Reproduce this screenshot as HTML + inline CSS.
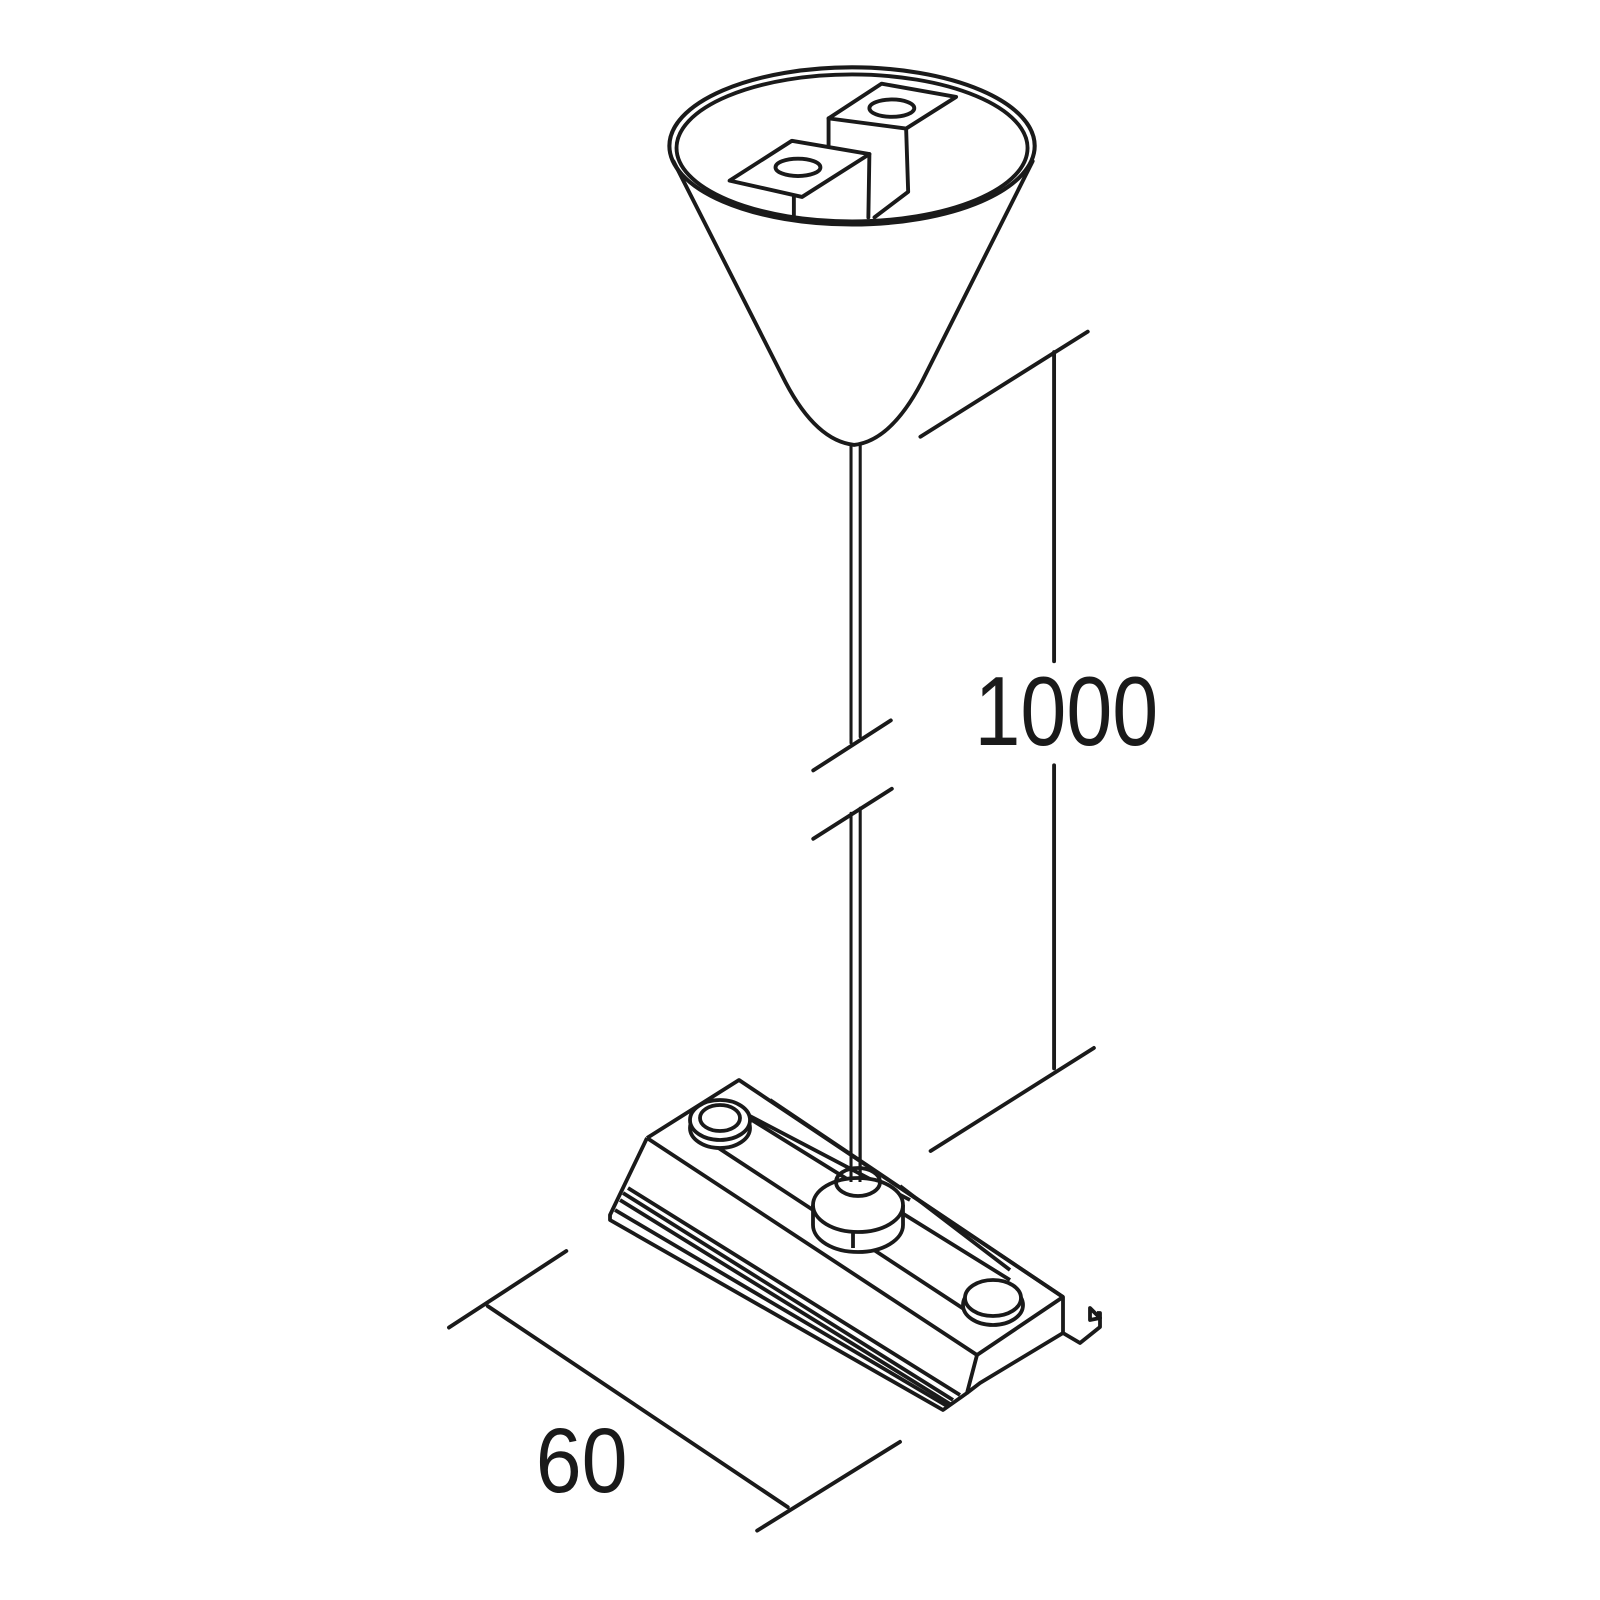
<!DOCTYPE html>
<html><head><style>html,body{margin:0;padding:0;background:#fff}svg{display:block}</style></head>
<body>
<svg width="1600" height="1600" viewBox="0 0 1568 1568" xmlns="http://www.w3.org/2000/svg">
<g fill="none" stroke="#1a1a1a" stroke-width="3.8" stroke-linejoin="round" stroke-linecap="round">
<!-- cone -->
<ellipse cx="835" cy="143" rx="179" ry="77" stroke-width="4"/>
<ellipse cx="835" cy="145" rx="172" ry="72"/>
<path d="M660 158 L770 375 Q800 432 837 436 Q873 432 903 375 L1012 158"/>
<!-- blocks -->
<path d="M812 116 L864 82 L937 95 L888 126 Z"/>
<ellipse cx="874" cy="106" rx="22" ry="8.5"/>
<path d="M812 116 L812 143 M888 126 L890 188 L857 213"/>
<path d="M715 177 L776 138 L852 151 L786 193 Z"/>
<ellipse cx="782" cy="164" rx="22" ry="8.5"/>
<path d="M778 193 L778 211 M852 151 L851 213"/>
<!-- wire -->
<path d="M834 436 V728 M843 436 V722 M834 797 V1160 M843 792 V1160" stroke-width="3"/>
<path d="M797 755 L873 706 M797 822 L874 773"/>
<!-- dim 1000 -->
<path d="M902 428 L1066 325 M1033 345 V648 M1033 750 V1047 M912 1128 L1072 1027"/>
<!-- dim 60 -->
<path d="M440 1301 L555 1226 M478 1280 L772 1477 M742 1500 L882 1413"/>
</g>
<text x="955" y="730" font-family="Liberation Sans, sans-serif" font-size="96" textLength="180" lengthAdjust="spacingAndGlyphs" fill="#1a1a1a">1000</text>
<text x="525" y="1462" font-family="Liberation Sans, sans-serif" font-size="90" textLength="90" lengthAdjust="spacingAndGlyphs" fill="#1a1a1a">60</text>
<!-- base -->
<g transform="scale(0.98)" fill="none" stroke="#1a1a1a" stroke-width="3.8" stroke-linejoin="round">
<path d="M647 1138 L739 1080 L1063 1297 L1063 1333 L1080 1343 L1100 1327 L1100 1313 L1097 1313"/>
<path d="M770 1100 L1063 1297"/>
<path d="M1090 1308 L1100 1318 L1090 1320 Z"/>
<path d="M647 1138 L977 1355 L1063 1297"/>
<path d="M647 1138 L610 1215 L610 1220 L943 1410 L967 1393 L977 1355"/>
<path d="M623 1193 L953 1400 M620 1200 L950 1404 M628 1188 L960 1395"/>
<path d="M615 1210 L947 1406"/>
<path d="M967 1393 L980 1383 L1063 1333"/>
<path d="M747 1117 L1010 1280 M717 1147 L970 1313"/>
<path d="M748 1115 L910 1200 M900 1186 L1010 1270"/>
<ellipse cx="720" cy="1128" rx="30" ry="20" fill="#fff"/>
<ellipse cx="720" cy="1120" rx="30" ry="20" fill="#fff"/>
<ellipse cx="720" cy="1118" rx="20" ry="13"/>
<ellipse cx="993" cy="1305" rx="30" ry="20" fill="#fff"/>
<ellipse cx="993" cy="1298" rx="28" ry="18" fill="#fff"/>
<path d="M813 1205 V1225 A45 27 0 0 0 903 1225 V1205" fill="#fff"/>
<ellipse cx="858" cy="1205" rx="45" ry="27" fill="#fff"/>
<path d="M853 1232 V1248"/>
<ellipse cx="858" cy="1182" rx="22" ry="14"/>
<path d="M851 1050 V1182 M860 1050 V1182" stroke-width="3"/>
</g>
</svg>
</body></html>
